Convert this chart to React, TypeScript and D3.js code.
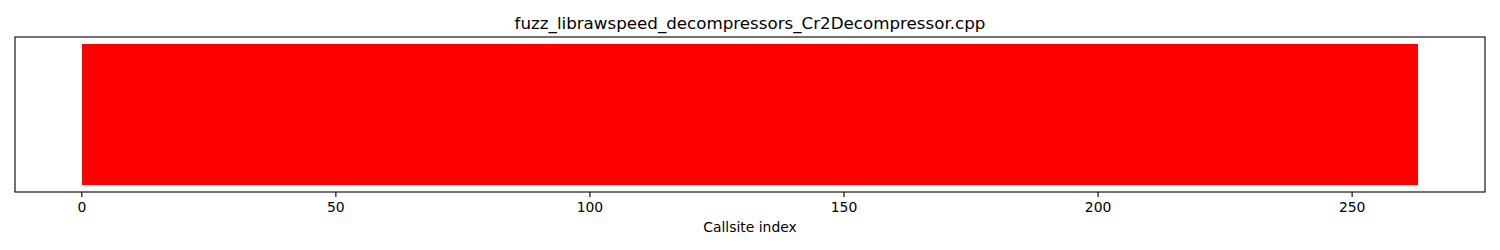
import React from "react";
import * as d3 from "d3";

// Hit count per callsite (0 = never reached)
const callsiteHits: number[] = [
  0, 0, 0, 0, 0, 0, 0, 0, 0, 0, 0, 0, 0, 0, 0, 0, 0, 0, 0, 0,
  0, 0, 0, 0, 0, 0, 0, 0, 0, 0, 0, 0, 0, 0, 0, 0, 0, 0, 0, 0,
  0, 0, 0, 0, 0, 0, 0, 0, 0, 0, 0, 0, 0, 0, 0, 0, 0, 0, 0, 0,
  0, 0, 0, 0, 0, 0, 0, 0, 0, 0, 0, 0, 0, 0, 0, 0, 0, 0, 0, 0,
  0, 0, 0, 0, 0, 0, 0, 0, 0, 0, 0, 0, 0, 0, 0, 0, 0, 0, 0, 0,
  0, 0, 0, 0, 0, 0, 0, 0, 0, 0, 0, 0, 0, 0, 0, 0, 0, 0, 0, 0,
  0, 0, 0, 0, 0, 0, 0, 0, 0, 0, 0, 0, 0, 0, 0, 0, 0, 0, 0, 0,
  0, 0, 0, 0, 0, 0, 0, 0, 0, 0, 0, 0, 0, 0, 0, 0, 0, 0, 0, 0,
  0, 0, 0, 0, 0, 0, 0, 0, 0, 0, 0, 0, 0, 0, 0, 0, 0, 0, 0, 0,
  0, 0, 0, 0, 0, 0, 0, 0, 0, 0, 0, 0, 0, 0, 0, 0, 0, 0, 0, 0,
  0, 0, 0, 0, 0, 0, 0, 0, 0, 0, 0, 0, 0, 0, 0, 0, 0, 0, 0, 0,
  0, 0, 0, 0, 0, 0, 0, 0, 0, 0, 0, 0, 0, 0, 0, 0, 0, 0, 0, 0,
  0, 0, 0, 0, 0, 0, 0, 0, 0, 0, 0, 0, 0, 0, 0, 0, 0, 0, 0, 0,
  0, 0, 0,
];

const xTicks: number[] = [0, 50, 100, 150, 200, 250];
const title = "fuzz_librawspeed_decompressors_Cr2Decompressor.cpp";
const xLabel = "Callsite index";

const W = 1500;
const H = 250;
const plot = { left: 15, right: 1485, top: 37, bottom: 192 };
const FONT = "'DejaVu Sans', sans-serif";

export default function App() {
  const n = callsiteHits.length;
  const xPad = n * 0.05;
  const x = d3.scaleLinear().domain([-xPad, n + xPad]).range([plot.left, plot.right]);
  const y = d3.scaleLinear().domain([-0.05, 1.05]).range([plot.bottom, plot.top]);

  return (
    <svg
      width={W}
      height={H}
      style={{ position: "absolute", left: 0, top: 0, background: "#fff" }}
    >
      <text x={(plot.left + plot.right) / 2} y={29} textAnchor="middle" fontFamily={FONT} fontSize={16.7} fill="#000">
        {title}
      </text>
      <g shapeRendering="crispEdges">
        {callsiteHits.map((hits, i) => {
          const color = hits > 0 ? "green" : "red";
          return (
            <rect
              key={i}
              x={x(i)}
              y={y(1)}
              width={x(i + 1) - x(i) + (i < n - 1 ? 0.6 : 0)}
              height={y(0) - y(1)}
              fill={color}
            />
          );
        })}
      </g>
      <rect
        x={plot.left}
        y={plot.top}
        width={plot.right - plot.left}
        height={plot.bottom - plot.top}
        fill="none"
        stroke="#000"
        strokeWidth={1.1}
      />
      {xTicks.map((t) => (
        <g key={t} transform={`translate(${x(t)},${plot.bottom})`}>
          <line y1={0} y2={4.9} stroke="#000" strokeWidth={1.1} />
          <text y={20} textAnchor="middle" fontFamily={FONT} fontSize={13.9} fill="#000">
            {t}
          </text>
        </g>
      ))}
      <text x={(plot.left + plot.right) / 2} y={232} textAnchor="middle" fontFamily={FONT} fontSize={13.9} fill="#000">
        {xLabel}
      </text>
    </svg>
  );
}
